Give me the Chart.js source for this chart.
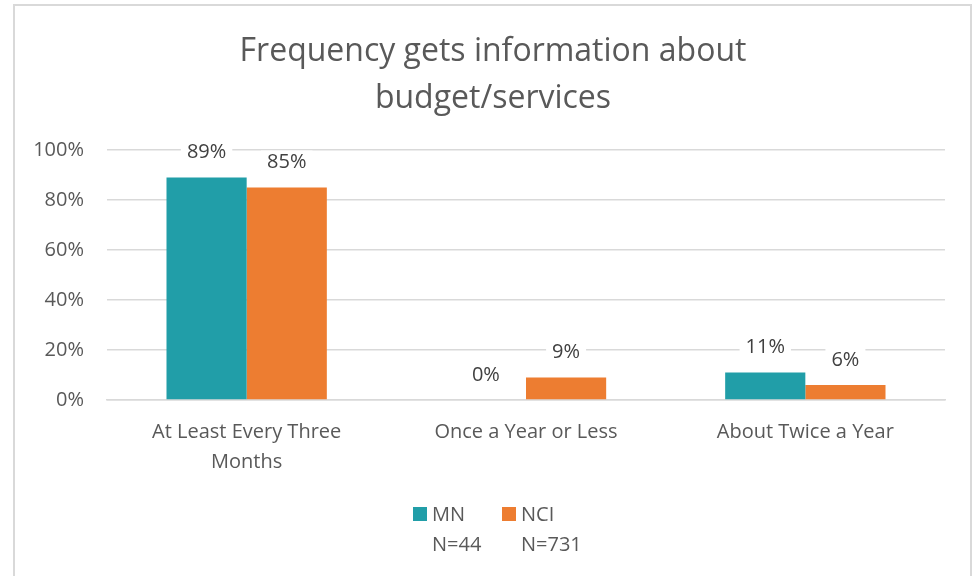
<!DOCTYPE html>
<html>
<head>
<meta charset="utf-8">
<script src="https://cdn.jsdelivr.net/npm/chart.js@4/dist/chart.umd.min.js"></script>
<style>
    body { margin: 0; background: #fff; }
    #wrap { position: relative; width: 980px; height: 576px; overflow: hidden; }
    #frame { position: absolute; left: 13px; top: 4px; width: 959px; height: 600px; border: 2px solid #d9d9d9; box-sizing: border-box; }
    #chart { position: absolute; left: 0; top: 0; }
</style>
</head>
<body>
<div id="wrap">
    <div id="frame"></div>
    <canvas id="chart" width="980" height="576"></canvas>
</div>
<script>
const titleLines = ["Frequency gets information about", "budget/services"];
const categories = [["At Least Every Three", "Months"], "Once a Year or Less", "About Twice a Year"];
const mnValues = [89, 0, 11];
const nciValues = [85, 9, 6];
const seriesNames = ["MN", "NCI"];
const seriesNotes = ["N=44", "N=731"];
const yTicks = [0, 20, 40, 60, 80, 100];

const FONT = "'Open Sans', 'Noto Sans', sans-serif";
const TEXT = "#595959";

// labels above bars + custom legend + title
const extras = {
    id: "extras",
    afterDatasetsDraw(chart) {
        const ctx = chart.ctx;
        ctx.save();
        ctx.font = "20px " + FONT;
        ctx.textAlign = "center";
        ctx.textBaseline = "middle";
        chart.data.datasets.forEach((ds, i) => {
            chart.getDatasetMeta(i).data.forEach((bar, j) => {
                const txt = ds.data[j] + "%";
                const y = bar.y - 25;
                const w = ctx.measureText(txt).width + 12;
                ctx.fillStyle = "#fff";
                ctx.fillRect(bar.x - w / 2, y - 12, w, 24);
                ctx.fillStyle = "#404040";
                ctx.fillText(txt, bar.x, y);
            });
        });

        // title
        ctx.fillStyle = TEXT;
        ctx.font = "32px " + FONT;
        ctx.fillText(titleLines[0], 493, 52);
        ctx.fillText(titleLines[1], 493, 99);

        // legend
        const items = [{ x: 413 }, { x: 502 }];
        ctx.font = "20px " + FONT;
        ctx.textAlign = "left";
        items.forEach((it, i) => {
            ctx.fillStyle = chart.data.datasets[i].backgroundColor;
            ctx.fillRect(it.x, 507, 14, 14);
            ctx.fillStyle = TEXT;
            ctx.fillText(seriesNames[i], it.x + 19, 515);
            ctx.fillText(seriesNotes[i], it.x + 19, 545);
        });
        ctx.restore();
    }
};

new Chart(document.getElementById("chart"), {
    type: "bar",
    data: {
        labels: categories,
        datasets: [
            { label: seriesNames[0], data: mnValues, backgroundColor: "#219ea8" },
            { label: seriesNames[1], data: nciValues, backgroundColor: "#ed7d31" }
        ]
    },
    options: {
        responsive: false,
        animation: false,
        layout: { padding: { left: 0, right: 35, top: 150, bottom: 0 } },
        plugins: { legend: { display: false }, tooltip: { enabled: false }, title: { display: false } },
        datasets: { bar: { barPercentage: 1, categoryPercentage: 0.574 } },
        scales: {
            x: {
                grid: { display: false },
                border: { color: "#d9d9d9", width: 1.5 },
                ticks: { color: TEXT, font: { family: FONT, size: 20, lineHeight: 1.5 }, padding: 9, maxRotation: 0 },
                afterFit(scale) { scale.height = 176; }
            },
            y: {
                min: 0,
                max: 100,
                afterBuildTicks(scale) { scale.ticks = yTicks.map(v => ({ value: v })); },
                grid: { color: "#d9d9d9", lineWidth: 1.5, drawTicks: false },
                border: { display: false },
                ticks: { color: TEXT, font: { family: FONT, size: 20 }, padding: 23, callback: v => v + "%" },
                afterFit(scale) { scale.width = 107; }
            }
        }
    },
    plugins: [extras]
});
</script>
</body>
</html>
